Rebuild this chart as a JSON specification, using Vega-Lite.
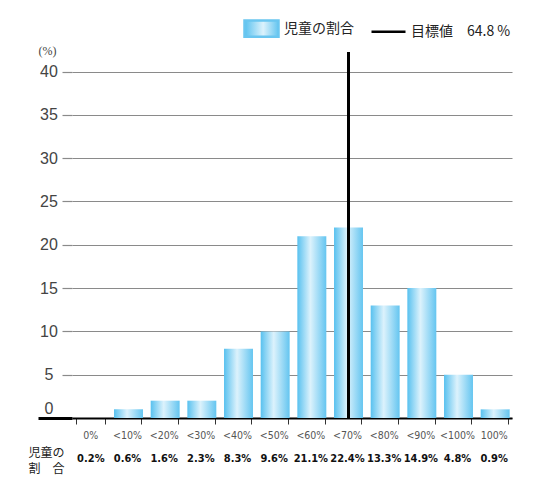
{
  "$schema": "https://vega.github.io/schema/vega-lite/v6.json",
  "width": 440,
  "height": 366,
  "autosize": {"type": "none"},
  "padding": {"left": 72, "top": 52, "right": 37, "bottom": 66},
  "background": "white",
  "config": {"view": {"stroke": null}, "font": "Liberation Sans"},
  "datasets": {
    "bars": [
      {"区分": "0%", "値": 0, "割合ラベル": "0.2%"},
      {"区分": "<10%", "値": 1, "割合ラベル": "0.6%"},
      {"区分": "<20%", "値": 2, "割合ラベル": "1.6%"},
      {"区分": "<30%", "値": 2, "割合ラベル": "2.3%"},
      {"区分": "<40%", "値": 8, "割合ラベル": "8.3%"},
      {"区分": "<50%", "値": 10, "割合ラベル": "9.6%"},
      {"区分": "<60%", "値": 21, "割合ラベル": "21.1%"},
      {"区分": "<70%", "値": 22, "割合ラベル": "22.4%"},
      {"区分": "<80%", "値": 13, "割合ラベル": "13.3%"},
      {"区分": "<90%", "値": 15, "割合ラベル": "14.9%"},
      {"区分": "<100%", "値": 5, "割合ラベル": "4.8%"},
      {"区分": "100%", "値": 1, "割合ラベル": "0.9%"}
    ],
    "target": [
      {"区分": "<70%", "系列": "目標値　64.8 %"}
    ]
  },
  "layer": [
    {
      "layer": [
        {
          "data": {"name": "bars"},
          "mark": {
            "type": "bar",
            "xOffset": 1.5,
            "fill": {
              "x1": 0, "y1": 0, "x2": 1, "y2": 0,
              "gradient": "linear",
              "stops": [
                {"offset": 0, "color": "#58c1ef"},
                {"offset": 0.45, "color": "#dcf2fc"},
                {"offset": 1, "color": "#64c5f0"}
              ]
            }
          },
          "encoding": {
            "x": {
              "field": "区分",
              "type": "nominal",
              "sort": null,
              "scale": {
                "domain": ["0%", "<10%", "<20%", "<30%", "<40%", "<50%", "<60%", "<70%", "<80%", "<90%", "<100%", "100%"],
                "paddingInner": 0.21,
                "paddingOuter": 0.105
              },
              "axis": {
                "title": null,
                "tickBand": "extent",
                "domainColor": "#000000",
                "domainWidth": 2,
                "tickColor": "#333333",
                "tickSize": 6,
                "labelAngle": 0,
                "labelFont": "DejaVu Sans Condensed, Liberation Sans",
                "labelFontSize": 10.5,
                "labelColor": "#555555",
                "labelPadding": 6,
                "grid": false
              }
            },
            "y": {
              "field": "値",
              "type": "quantitative",
              "scale": {"domain": [0, 42.26], "nice": false},
              "axis": {
                "values": [0, 5, 10, 15, 20, 25, 30, 35, 40],
                "title": "(%)",
                "titleAngle": 0,
                "titleX": -25,
                "titleY": -2,
                "titleAlign": "center",
                "titleBaseline": "middle",
                "titleFont": "Liberation Serif",
                "titleFontSize": 12,
                "titleFontWeight": "normal",
                "titleColor": "#444444",
                "domain": false,
                "grid": true,
                "gridColor": "#8a8a8a",
                "gridWidth": 1.2,
                "tickSize": {"condition": {"test": "datum.value === 0", "value": 34}, "value": 10},
                "tickColor": {"condition": {"test": "datum.value === 0", "value": "#000000"}, "value": "#8a8a8a"},
                "tickWidth": {"condition": {"test": "datum.value === 0", "value": 3}, "value": 1.2},
                "labelAlign": "center",
                "labelPadding": {"condition": {"test": "datum.value === 0", "value": -10.5}, "value": 13.5},
                "labelFont": "Liberation Sans",
                "labelFontSize": 16,
                "labelColor": "#444444",
                "labelOffset": {"condition": {"test": "datum.value === 0", "value": -10}, "value": 0}
              }
            }
          }
        },
        {
          "data": {"name": "target"},
          "mark": {"type": "rule", "strokeWidth": 3, "xOffset": 1.5},
          "encoding": {
            "x": {"field": "区分", "type": "nominal"},
            "color": {
              "field": "系列",
              "type": "nominal",
              "scale": {"domain": ["児童の割合", "目標値　64.8 %"], "range": ["#6ac6f0", "#000000"]},
              "legend": {
                "title": null,
                "orient": "none",
                "direction": "horizontal",
                "legendX": 171,
                "legendY": -42,
                "padding": 0,
                "symbolSize": 1156,
                "columnPadding": 12,
                "labelOffset": 4,
                "labelFont": "Noto Sans CJK JP",
                "labelFontSize": 14,
                "labelColor": "#222222",
                "encode": {
                  "symbols": {
                    "update": {
                      "shape": {"signal": "datum.value === '児童の割合' ? 'M-1,-0.48H1V0.48H-1Z' : 'stroke'"},
                      "fill": {"signal": "datum.value === '児童の割合' ? {gradient: 'linear', x1: 0, y1: 0, x2: 1, y2: 0, stops: [{offset: 0, color: '#58c1ef'}, {offset: 0.55, color: '#dcf2fc'}, {offset: 1, color: '#64c5f0'}]} : 'transparent'"},
                      "stroke": {"signal": "datum.value === '児童の割合' ? 'transparent' : '#000000'"},
                      "strokeWidth": {"value": 2.5},
                      "opacity": {"value": 1}
                    }
                  }
                }
              }
            }
          }
        }
      ]
    },
    {
      "data": {"name": "bars"},
      "mark": {"type": "text", "text": ""},
      "encoding": {
        "x": {
          "field": "割合ラベル",
          "type": "nominal",
          "sort": null,
          "scale": {"paddingInner": 0.21, "paddingOuter": 0.105},
          "axis": {
            "orient": "bottom",
            "domain": false,
            "ticks": false,
            "grid": false,
            "labelAngle": 0,
            "labelPadding": 34,
            "labelFont": "DejaVu Sans Condensed, Liberation Sans",
            "labelFontSize": 11,
            "labelFontWeight": "bold",
            "labelColor": "#111111",
            "title": ["児童の", "割　合"],
            "titleX": -26,
            "titleY": 29,
            "titleAlign": "center",
            "titleBaseline": "top",
            "titleAngle": 0,
            "titleFont": "Noto Sans CJK JP",
            "titleFontSize": 12,
            "titleFontWeight": "normal",
            "titleLineHeight": 16,
            "titleColor": "#222222"
          }
        }
      }
    }
  ],
  "resolve": {"scale": {"x": "independent"}, "axis": {"x": "independent"}}
}
